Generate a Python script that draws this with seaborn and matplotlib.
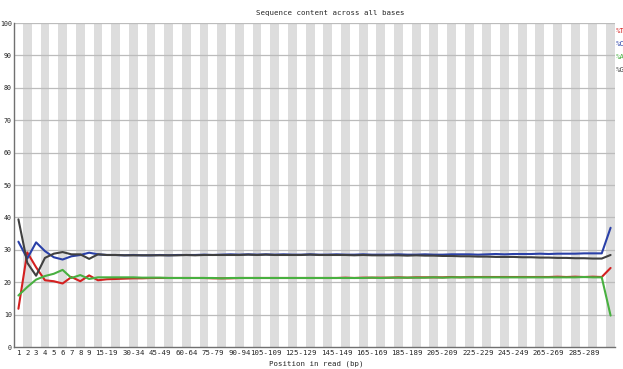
import pandas as pd
import seaborn as sns
import matplotlib.pyplot as plt

# Positions (bins) along the read, as FastQC groups them
positions = [str(i) for i in range(1, 10)] + \
    ['%d-%d' % (s, s + 4) for s in range(10, 300, 5)] + ['300-301']

pct_t = [11.8, 29.2, 24.6, 20.6, 20.3, 19.6, 21.6, 20.3, 22.1, 20.6,
         20.9, 21.0, 21.1, 21.2, 21.2, 21.3, 21.3, 21.3, 21.3, 21.3,
         21.3, 21.3, 21.2, 21.2, 21.2, 21.3, 21.3, 21.3, 21.3, 21.3,
         21.3, 21.3, 21.3, 21.3, 21.3, 21.3, 21.3, 21.4, 21.3, 21.4,
         21.4, 21.4, 21.4, 21.5, 21.4, 21.5, 21.5, 21.5, 21.5, 21.6,
         21.5, 21.6, 21.6, 21.6, 21.6, 21.6, 21.6, 21.6, 21.6, 21.6,
         21.6, 21.7, 21.6, 21.7, 21.6, 21.7, 21.6, 24.4]
pct_c = [32.5, 27.3, 32.3, 29.6, 27.7, 27.0, 28.0, 28.4, 29.1, 28.6,
         28.4, 28.4, 28.3, 28.4, 28.3, 28.3, 28.4, 28.3, 28.4, 28.4,
         28.4, 28.5, 28.4, 28.5, 28.6, 28.5, 28.6, 28.5, 28.6, 28.5,
         28.6, 28.5, 28.5, 28.6, 28.5, 28.5, 28.6, 28.5, 28.5, 28.6,
         28.5, 28.5, 28.5, 28.6, 28.5, 28.5, 28.6, 28.5, 28.5, 28.6,
         28.6, 28.6, 28.5, 28.6, 28.7, 28.6, 28.7, 28.7, 28.7, 28.8,
         28.7, 28.8, 28.8, 28.8, 28.9, 28.9, 28.9, 36.8]
pct_a = [15.9, 18.5, 20.8, 21.9, 22.6, 23.8, 21.3, 22.2, 21.0, 21.5,
         21.5, 21.5, 21.5, 21.5, 21.4, 21.4, 21.4, 21.3, 21.3, 21.3,
         21.3, 21.3, 21.3, 21.2, 21.3, 21.3, 21.3, 21.3, 21.3, 21.3,
         21.3, 21.3, 21.3, 21.3, 21.3, 21.3, 21.3, 21.3, 21.3, 21.3,
         21.4, 21.3, 21.4, 21.4, 21.4, 21.4, 21.4, 21.5, 21.4, 21.5,
         21.5, 21.5, 21.5, 21.5, 21.5, 21.5, 21.5, 21.5, 21.5, 21.5,
         21.5, 21.5, 21.5, 21.5, 21.6, 21.5, 21.5, 9.7]
pct_g = [39.4, 26.0, 22.0, 27.5, 28.8, 29.3, 28.6, 28.6, 27.2, 28.6,
         28.4, 28.4, 28.3, 28.3, 28.3, 28.3, 28.3, 28.3, 28.3, 28.4,
         28.3, 28.4, 28.4, 28.4, 28.4, 28.4, 28.5, 28.4, 28.5, 28.4,
         28.4, 28.4, 28.4, 28.5, 28.4, 28.4, 28.4, 28.4, 28.3, 28.4,
         28.3, 28.3, 28.3, 28.3, 28.2, 28.3, 28.2, 28.2, 28.1, 28.1,
         28.0, 28.0, 27.9, 27.9, 27.8, 27.8, 27.8, 27.7, 27.7, 27.6,
         27.6, 27.5, 27.5, 27.4, 27.4, 27.3, 27.3, 28.4]

labels = ['%T', '%C', '%A', '%G']
colors = ['#d42020', '#2a40a8', '#48b040', '#404040']

n = len(positions)
df = pd.DataFrame({
    'idx': list(range(n)) * 4,
    'pct': pct_t + pct_c + pct_a + pct_g,
    'base': sum([[b] * n for b in labels], []),
})

sns.set_style('white')
plt.rcParams['font.family'] = ['DejaVu Sans Mono']

W, H = 623, 369
fig = plt.figure(figsize=(W / 100, H / 100), dpi=100)
ax = fig.add_axes([14 / W, 22 / H, (615 - 14) / W, (347 - 23) / H])

# alternating grey stripes
for i in range(1, n, 2):
    ax.axvspan(i - 0.5, i + 0.5, color='#dddddd', lw=0, zorder=0)
for v in range(10, 101, 10):
    ax.axhline(v, color='#bcbcbc', lw=0.9, zorder=1)

sns.lineplot(data=df, x='idx', y='pct', hue='base', palette=colors,
             hue_order=labels, lw=1.5, legend=False, ax=ax, zorder=3)

ax.set_xlim(-0.5, n - 0.5)
ax.set_ylim(0, 100)
ax.set_yticks(range(0, 101, 10))
ax.set_yticklabels([str(v) for v in range(0, 101, 10)], fontsize=4.8)
shown = list(range(0, 9)) + [10, 13, 16, 19, 22, 25, 28, 32, 36, 40,
                              44, 48, 52, 56, 60, 64]
ax.set_xticks(shown)
ax.set_xticklabels([positions[i] for i in shown], fontsize=5.3)
ax.tick_params(axis='x', length=0, pad=2)
ax.tick_params(axis='y', length=0, pad=1.5)
ax.set_xlabel('')
ax.set_ylabel('')
for s in ['top', 'right']:
    ax.spines[s].set_visible(False)
for s in ['left', 'bottom']:
    ax.spines[s].set_color('#707070')
    ax.spines[s].set_linewidth(1)

fig.text(330 / W, 1 - 13 / H, 'Sequence content across all bases',
         fontsize=5.3, ha='center', va='center')
fig.text(316 / W, 1 - 364 / H, 'Position in read (bp)',
         fontsize=5.3, ha='center', va='center')

# legend box, clipped at the right edge as in the original
for k, (lab, col) in enumerate(zip(labels, colors)):
    fig.text(616 / W, 1 - (31 + 13 * k) / H, lab, color=col,
             fontsize=5.3, ha='left', va='center')

fig.savefig('out.png', dpi=100)
